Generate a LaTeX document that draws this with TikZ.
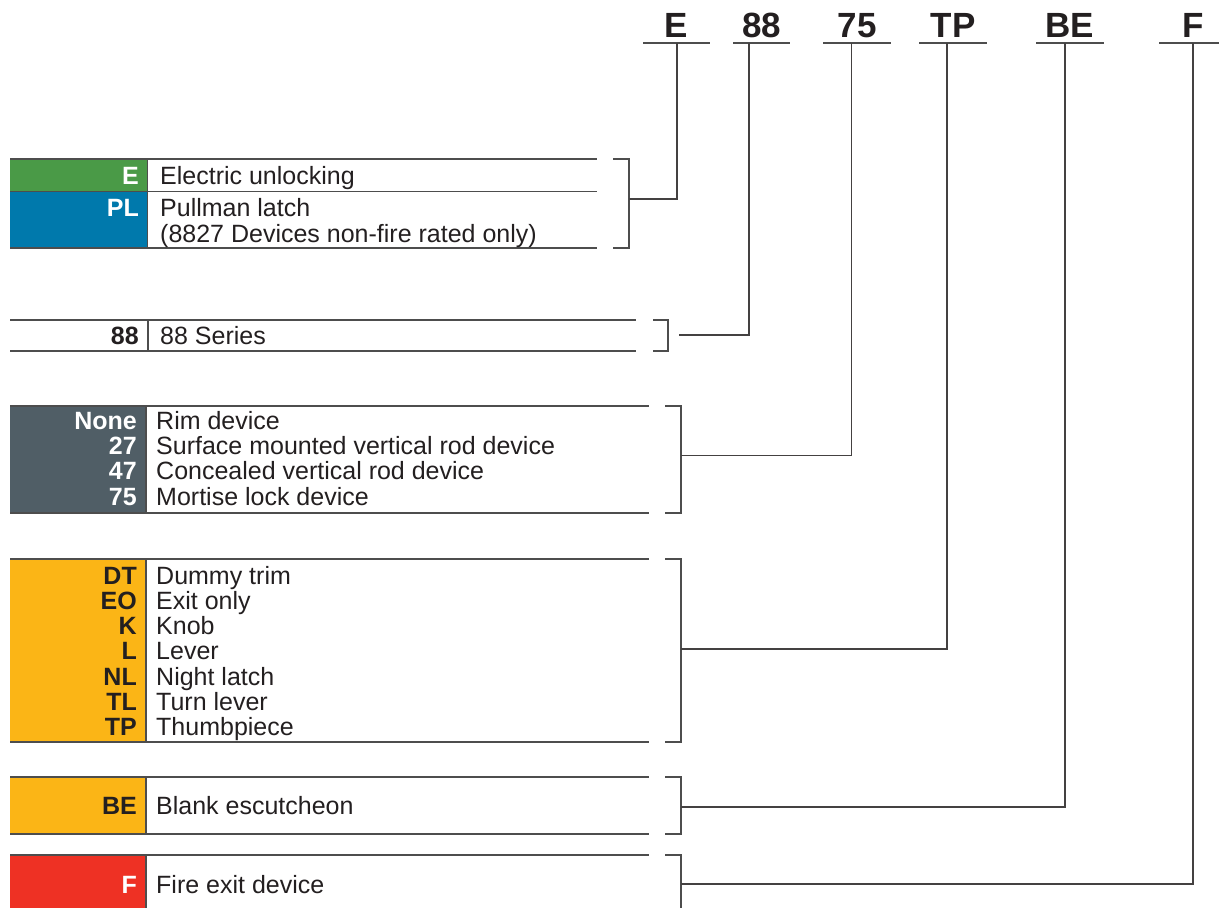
\documentclass[tikz,border=0pt]{standalone}
\usepackage{fontspec}
\setmainfont{Liberation Sans}
\definecolor{ink}{HTML}{231F20}
\definecolor{rule}{HTML}{4D4D4D}
\definecolor{cgreen}{HTML}{4A9A47}
\definecolor{cblue}{HTML}{0079AC}
\definecolor{cslate}{HTML}{505E66}
\definecolor{corange}{HTML}{FBB516}
\definecolor{cred}{HTML}{EE3124}
\begin{document}
\begin{tikzpicture}[x=1pt,y=-1pt,
  ln/.style={draw=rule,line width=1.6pt},
  brk/.style={draw=rule,line width=1.6pt,line join=miter},
  conn/.style={draw=ink!85,line width=1.6pt},
  codew/.style={anchor=base east,inner sep=0pt,text=white,font=\fontsize{25}{26}\selectfont\bfseries},
  codek/.style={anchor=base east,inner sep=0pt,text=ink,font=\fontsize{25}{26}\selectfont\bfseries},
  desc/.style={anchor=base west,inner sep=0pt,text=ink,font=\fontsize{25}{26}\selectfont},
  toplbl/.style={anchor=base,inner sep=0pt,text=ink,font=\fontsize{35}{35}\selectfont\bfseries},
]
\useasboundingbox (0,0) rectangle (1219,908);

% ---- top code labels ----
\node[toplbl] (tE)  at (676.5,37.5) {E};
\node[toplbl] (t88) at (761.5,37.5) {88};
\node[toplbl] (t75) at (857,37.5) {75};
\node[toplbl] (tTP) at (953,37.5) {TP};
\node[toplbl] (tBE) at (1070,37.5) {BE};
\node[toplbl] (tF)  at (1193,37.5) {F};
\draw[ln] (643,43) -- (710,43);
\draw[ln] (733,43) -- (790,43);
\draw[ln] (823,43) -- (891,43);
\draw[ln] (919,43) -- (987,43);
\draw[ln] (1036,43) -- (1104,43);
\draw[ln] (1159,43) -- (1219,43);
\coordinate (vE)  at (677,43);
\coordinate (v88) at (749,43);
\coordinate (v75) at (851.5,43);
\coordinate (vTP) at (947,43);
\coordinate (vBE) at (1065,43);
\coordinate (vF)  at (1193,43);

% ---- panel 1: E / PL ----
\fill[cgreen] (10,159) rectangle (147,191.5);
\fill[cblue]  (10,191.5) rectangle (147,248);
\draw[ln] (10,159) -- (597,159);
\draw[ln] (10,191.5) -- (597,191.5);
\draw[ln] (10,248) -- (597,248);
\draw[ln] (147.5,159) -- (147.5,248);
\node[codew] (cE)  at (139,184) {E};
\node[codew] (cPL) at (139,216) {PL};
\node[desc] (dE)  at (160,184) {Electric unlocking};
\node[desc] (dPL) at (160,216) {Pullman latch};
\node[desc] (dPL2) at (160,242) {(8827 Devices non-fire rated only)};
\draw[brk] (613,159) -- (629,159) -- (629,248) -- (613,248);
\coordinate (bE) at (629,199);

% ---- panel 2: 88 ----
\draw[ln] (10,320) -- (636,320);
\draw[ln] (10,351) -- (636,351);
\draw[ln] (148,320) -- (148,351);
\node[codek] (c88) at (139,344) {88};
\node[desc] (d88) at (160,344) {88 Series};
\draw[brk] (653,320) -- (668,320) -- (668,351) -- (653,351);
\coordinate (b88) at (679,335);

% ---- panel 3: device type ----
\fill[cslate] (10,406) rectangle (146,513);
\draw[ln] (10,406) -- (649,406);
\draw[ln] (10,513) -- (649,513);
\draw[ln] (146,406) -- (146,513);
\node[codew] (cNone) at (137,429) {None};
\node[codew] (c27) at (137,454) {27};
\node[codew] (c47) at (137,479) {47};
\node[codew] (c75) at (137,505) {75};
\node[desc] (dNone) at (156,429) {Rim device};
\node[desc] (d27) at (156,454) {Surface mounted vertical rod device};
\node[desc] (d47) at (156,479) {Concealed vertical rod device};
\node[desc] (d75) at (156,505) {Mortise lock device};
\draw[brk] (665,406) -- (681,406) -- (681,513) -- (665,513);
\coordinate (b75) at (681,455.5);

% ---- panel 4: trim ----
\fill[corange] (10,559) rectangle (146,742);
\draw[ln] (10,559) -- (649,559);
\draw[ln] (10,742) -- (649,742);
\draw[ln] (146,559) -- (146,742);
\node[codek] (cDT) at (137,584) {DT};
\node[codek] (cEO) at (137,609) {EO};
\node[codek] (cK)  at (137,634) {K};
\node[codek] (cL)  at (137,659) {L};
\node[codek] (cNL) at (137,685) {NL};
\node[codek] (cTL) at (137,710) {TL};
\node[codek] (cTP) at (137,735) {TP};
\node[desc] (dDT) at (156,584) {Dummy trim};
\node[desc] (dEO) at (156,609) {Exit only};
\node[desc] (dK)  at (156,634) {Knob};
\node[desc] (dL)  at (156,659) {Lever};
\node[desc] (dNL) at (156,685) {Night latch};
\node[desc] (dTL) at (156,710) {Turn lever};
\node[desc] (dTP) at (156,735) {Thumbpiece};
\draw[brk] (665,559) -- (681,559) -- (681,742) -- (665,742);
\coordinate (bTP) at (681,649);

% ---- panel 5: BE ----
\fill[corange] (10,777) rectangle (146,834);
\draw[ln] (10,777) -- (649,777);
\draw[ln] (10,834) -- (649,834);
\draw[ln] (146,777) -- (146,834);
\node[codek] (cBE) at (137,814) {BE};
\node[desc] (dBE) at (156,814) {Blank escutcheon};
\draw[brk] (665,777) -- (681,777) -- (681,834) -- (665,834);
\coordinate (bBE) at (681,807);

% ---- panel 6: F ----
\fill[cred] (10,855) rectangle (146,908);
\draw[ln] (10,855) -- (649,855);
\draw[ln] (146,855) -- (146,908);
\node[codew] (cF) at (137,893) {F};
\node[desc] (dF) at (156,893) {Fire exit device};
\draw[brk] (665,855) -- (681,855) -- (681,908);
\coordinate (bF) at (681,884);

% ---- connectors ----
\draw[conn] (bE) -| (vE);
\draw[conn] (b88) -| (v88);
\draw[conn] (b75) -| (v75);
\draw[conn] (bTP) -| (vTP);
\draw[conn] (bBE) -| (vBE);
\draw[conn] (bF) -| (vF);
\end{tikzpicture}
\end{document}
